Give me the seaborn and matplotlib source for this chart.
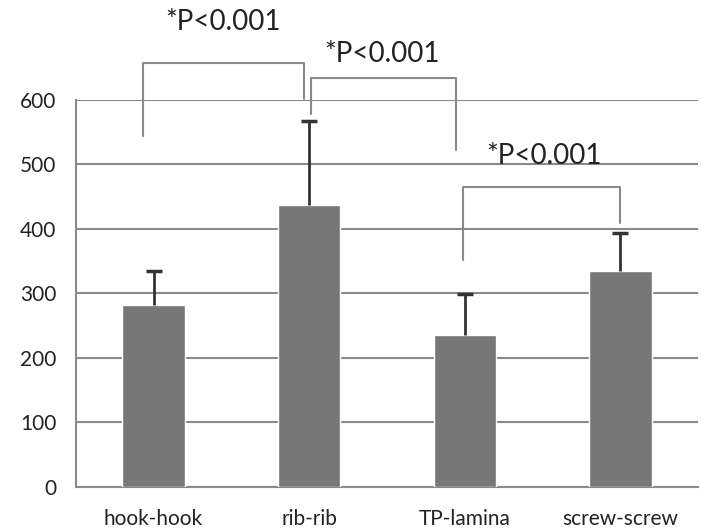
import numpy as np
import pandas as pd
import matplotlib
matplotlib.use("Agg")
import matplotlib.pyplot as plt
import seaborn as sns

# values
groups = ["hook-hook", "rib-rib", "TP-lamina", "screw-screw"]
means = [282, 437, 235, 334]
sd = [53, 130, 64, 59]

# significance brackets: (x_left, x_right) and (y_left, y_right, y_top)
brackets_x = [(-0.07, 0.965), (1.01, 1.945), (1.99, 3.0)]
brackets_y = [(544, 601, 657), (578, 522, 634), (351, 409, 465)]
labels_p = ["*P<0.001", "*P<0.001", "*P<0.001"]
labels_xy = [(0.45, 721), (1.47, 671), (2.51, 513)]

sns.set_style("white")
plt.rcParams['font.family'] = ['Lato', 'DejaVu Sans']

df = pd.DataFrame({"group": groups, "mean": means})

fig = plt.figure(figsize=(7.01, 5.31), dpi=100)
ax = fig.add_axes([0.108, 0.083, 0.888, 0.729])

sns.barplot(data=df, x="group", y="mean", color="#777777", saturation=1,
            width=0.4, errorbar=None, ax=ax, zorder=3)

# upper error bars only (line + cap at the top)
xpos = np.arange(len(groups))
tops = np.array(means) + np.array(sd)
ax.vlines(xpos, means, tops, color="#333333", linewidth=2, zorder=4)
ax.plot(xpos, tops, linestyle="none", marker="_", markersize=11,
        markeredgewidth=2.5, color="#333333", zorder=4)

ax.set_ylim(0, 600)
ax.set_xlim(-0.5, 3.5)
ax.set_yticks(range(0, 601, 100))
ax.yaxis.grid(True, color="#8a8a8a", linewidth=1.5, zorder=0)
ax.set_axisbelow(True)
ax.set_xlabel("")
ax.set_ylabel("")

for side in ["top", "right"]:
    ax.spines[side].set_visible(False)
for side in ["left", "bottom"]:
    ax.spines[side].set_color("#8a8a8a")
    ax.spines[side].set_linewidth(1.5)

ax.tick_params(axis="y", length=4, color="#8a8a8a", width=1.5, labelsize=15,
               pad=10, labelcolor="#222222")
ax.tick_params(axis="x", which="major", length=0, labelsize=15, pad=16,
               labelcolor="#222222")
ax.set_xticks([-0.5, 0.5, 1.5, 2.5, 3.5], minor=True)
ax.tick_params(axis="x", which="minor", length=5, color="#8a8a8a", width=1.5)

for (x0, x1), (y0, y1, yt) in zip(brackets_x, brackets_y):
    ax.plot([x0, x0, x1, x1], [y0, yt, yt, y1], color="#8a8a8a",
            linewidth=1.5, clip_on=False, zorder=5)

for txt, (tx, ty) in zip(labels_p, labels_xy):
    ax.text(tx, ty, txt, ha="center", va="center", fontsize=20,
            color="#222222", clip_on=False)

fig.savefig("out.png", dpi=100)
